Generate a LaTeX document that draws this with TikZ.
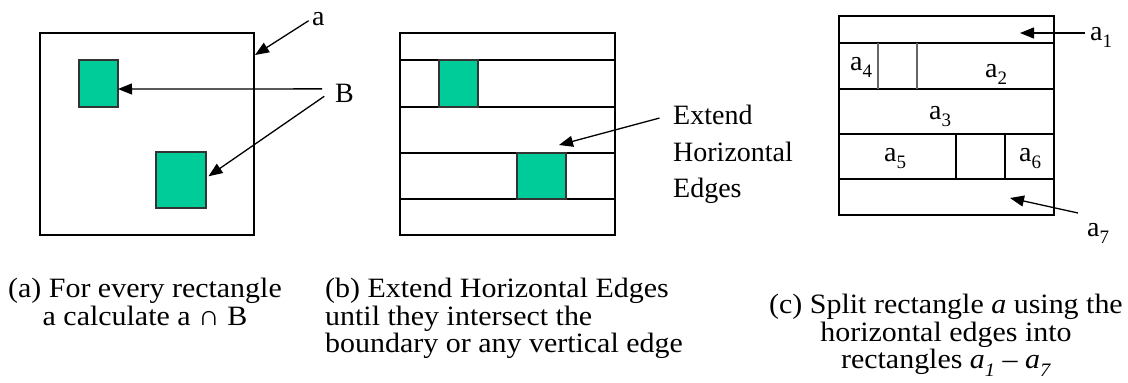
\documentclass[tikz,border=0pt]{standalone}
\usepackage{fontspec}
\setmainfont{Liberation Serif}
\newfontfamily\capfont[FakeStretch=1.07,Ligatures=TeX]{Liberation Serif}
\newfontfamily\labfont[Ligatures=TeX]{Liberation Serif}
\usetikzlibrary{arrows.meta,positioning}

\definecolor{regiongreen}{HTML}{00CC99}
\newcommand{\sub}[1]{\raisebox{-0.28em}{\fontsize{19}{19}\selectfont #1}}

\begin{document}
\begin{tikzpicture}[
    x=1pt, y=-1pt,
    >={Triangle[length=14pt,width=11pt]},
    cellbox/.style={draw,line width=1.8pt,inner sep=0pt,outer sep=0pt},
    region/.style={draw=black!80,line width=1.3pt,fill=regiongreen,inner sep=0pt,outer sep=0pt},
    cut/.style={line width=1.8pt},
    arr/.style={->,line width=1.3pt},
    lab/.style={font=\labfont\fontsize{28}{36.5}\selectfont,inner sep=0pt},
    capt/.style={font=\capfont\fontsize{28}{27.5}\selectfont,inner sep=0pt},
]
\useasboundingbox (0,0) rectangle (1128,383);

% ---- (a) rectangle a with the regions B ----
\node[cellbox,minimum width=214pt,minimum height=202pt] (pa) at (147,134) {};
\node[region,minimum width=39pt,minimum height=47pt] (ga1) at (98.5,83.5) {};
\node[region,minimum width=50pt,minimum height=56pt] (ga2) at (181,180) {};

\node[lab,anchor=base west] (la) at (312,25) {a};
\coordinate (ta) at (255,55);
\draw[arr,shorten <=4pt] (la.west) -- (ta);

\node[lab,anchor=base west] (lb) at (335,102) {B};
\draw[arr,shorten <=13pt] ([yshift=4pt]lb.west) -- ([yshift=-5.5pt]ga1.east);
\draw[arr,shorten <=13pt,shorten >=3pt] ([yshift=4pt]lb.west) -- ([yshift=2pt]ga2.east);

% ---- (b) extended horizontal edges ----
\node[cellbox,minimum width=215pt,minimum height=202pt] (pb) at (507.5,134) {};
\foreach \y in {60,107,153,199}
  \draw[cut] (400,\y) -- (615,\y);
\node[region,minimum width=39pt,minimum height=47pt] (gb1) at (458.5,83.5) {};
\node[region,minimum width=49pt,minimum height=46pt] (gb2) at (541.5,176) {};

\node[lab,anchor=base west] (ext1) at (673,124) {Extend};
\node[lab,anchor=base west] (ext2) at (673,161) {Horizontal};
\node[lab,anchor=base west] (ext3) at (673,197) {Edges};
\coordinate (tb) at (559,145);
\draw[arr,shorten <=14pt] (ext1.west) -- (tb);

% ---- (c) rectangle a split into a1 -- a7 ----
\node[cellbox,minimum width=215pt,minimum height=199pt] (pc) at (946.5,115.5) {};
\foreach \y in {43,89,134,179}
  \draw[cut] (839,\y) -- (1054,\y);
\draw[cut,draw=black!60] (878,43) -- (878,89);
\draw[cut,draw=black!60] (917,43) -- (917,89);
\draw[cut] (956,134) -- (956,179);
\draw[cut] (1005,134) -- (1005,179);

\node[lab,anchor=base west] (a4) at (850,70) {a\sub{4}};
\node[lab,anchor=base west] (a2) at (985,77) {a\sub{2}};
\node[lab,anchor=base west] (a3) at (929,119) {a\sub{3}};
\node[lab,anchor=base west] (a5) at (884,161) {a\sub{5}};
\node[lab,anchor=base west] (a6) at (1019,161) {a\sub{6}};

\node[lab,anchor=base west] (a1) at (1090,40) {a\sub{1}};
\coordinate (t1) at (1020,33);
\draw[arr,shorten <=5pt] ([yshift=7pt]a1.base west) -- (t1);

\node[lab,anchor=base west] (a7) at (1087,236) {a\sub{7}};
\coordinate (t7) at (1010,198);
\draw[arr] ([shift={(-9pt,23pt)}]a7.base west) -- (t7);

% ---- captions ----
\node[capt,align=center,anchor=north] (capa) at (145,278)
  {(a) For every rectangle\\a calculate a ∩ B};
\node[capt,align=left,anchor=north west] (capb) at (325,278)
  {(b) Extend Horizontal Edges\\until they intersect the\\boundary or any vertical edge};
\node[capt,align=center,anchor=north] (capc) at (946,294)
  {(c) Split rectangle \textit{a} using the\\horizontal edges into\\rectangles \textit{a}\sub{\textit{1}} – \textit{a}\sub{\textit{7}}};
\end{tikzpicture}
\end{document}
